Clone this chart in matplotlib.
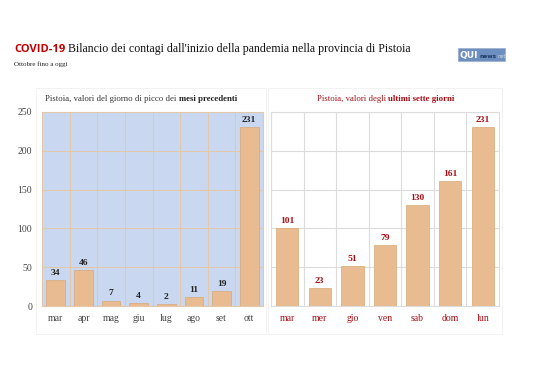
import numpy as np
import matplotlib
matplotlib.use("Agg")
import matplotlib.pyplot as plt
from matplotlib.patches import Rectangle

# data
months = ["mar", "apr", "mag", "giu", "lug", "ago", "set", "ott"]
month_peaks = [34, 46, 7, 4, 2, 11, 19, 231]
days = ["mar", "mer", "gio", "ven", "sab", "dom", "lun"]
day_values = [101, 23, 51, 79, 130, 161, 231]
y_ticks = [0, 50, 100, 150, 200, 250]

SERIF = ["Liberation Serif", "DejaVu Serif"]
BAR = "#e8bc90"
BAR_EDGE = "#d9a878"
RED = "#a50f15"

fig = plt.figure(figsize=(5.38, 3.80), dpi=100)
fig.patch.set_facecolor("white")


def place_after(first, y, text, gap=0, **kw):
    """Put a second text right after the first one on the same baseline."""
    r = fig.canvas.get_renderer()
    bb = first.get_window_extent(renderer=r)
    return fig.text((bb.x1 + gap) / fig.bbox.width, y, text, **kw)


# headline
hy = 1 - 52 / 380
t1 = fig.text(14 / 538, hy, "COVID-19", color="#c00000", fontsize=8,
              fontweight="bold", family="Open Sans", va="baseline")
place_after(t1, hy, " Bilancio dei contagi dall'inizio della pandemia nella provincia di Pistoia",
            fontsize=8.6, family=SERIF, color="#111111", va="baseline")
fig.text(14 / 538, 1 - 66 / 380, "Ottobre fino a oggi", fontsize=5, family=SERIF,
         color="#222222", va="baseline")

# logo
fig.patches.append(Rectangle((458 / 538, 1 - 61 / 380), 47 / 538, 13 / 380,
                             transform=fig.transFigure, facecolor="#6d8fbf",
                             edgecolor="#9fb4d2", linewidth=0.6))
ly = 1 - 58 / 380
q = fig.text(460 / 538, ly, "QUI", fontsize=6.5, fontweight="bold", color="white",
             family="DejaVu Sans", va="baseline")
n = place_after(q, ly, "news", gap=1, fontsize=4.2, fontweight="bold", color="#1e3a66",
                family="DejaVu Sans", va="baseline")
place_after(n, ly, "net", gap=0.5, fontsize=3.6, color="#d4deee",
            family="DejaVu Sans", va="baseline")

# faint frames around the two panels
for x0, x1 in [(36, 266), (268, 502)]:
    fig.patches.append(Rectangle((x0 / 538, 1 - 334 / 380), (x1 - x0) / 538, 246 / 380,
                                 transform=fig.transFigure, fill=False,
                                 edgecolor="#f0f0f0", linewidth=0.6))

ax1 = fig.add_axes([42 / 538, 1 - 306 / 380, 221 / 538, 194 / 380])
ax2 = fig.add_axes([271 / 538, 1 - 306 / 380, 228 / 538, 194 / 380])


def style(ax, cats, vals, face, grid, tick_color, label_color, show_y):
    x = np.arange(len(cats))
    ax.set_facecolor(face)
    ax.bar(x, vals, width=0.68, color=BAR, edgecolor=BAR_EDGE, linewidth=0.5, zorder=3)
    for xi, v in zip(x, vals):
        ax.text(xi, v + 4, str(v), ha="center", va="bottom", fontsize=6.8,
                fontweight="bold", family=SERIF, color=label_color, zorder=4)
    ax.set_ylim(0, 250)
    ax.set_xlim(-0.5, len(cats) - 0.5)
    ax.set_yticks(y_ticks)
    ax.set_xticks(x)
    ax.set_xticklabels(cats, family=SERIF, fontsize=7, color=tick_color)
    ax.set_xticks(np.arange(len(cats) + 1) - 0.5, minor=True)
    ax.yaxis.grid(True, color=grid, linewidth=0.8, zorder=0)
    ax.xaxis.grid(True, which="minor", color=grid, linewidth=0.8, zorder=0)
    ax.tick_params(axis="both", which="both", length=0)
    ax.tick_params(axis="x", pad=6)
    if show_y:
        ax.set_yticklabels([str(v) for v in y_ticks], family=SERIF, fontsize=7, color="#444444")
        ax.tick_params(axis="y", pad=7)
    else:
        ax.set_yticklabels([])
    for s in ax.spines.values():
        s.set_color(grid)
        s.set_linewidth(0.8)


style(ax1, months, month_peaks, "#c9d8f0", "#e2c8aa", "#444444", "#222222", True)
style(ax2, days, day_values, "white", "#dcdcdc", RED, RED, False)

# panel titles with a bold tail
ty = 1 - 101 / 380
a = fig.text(45 / 538, ty, "Pistoia, valori del giorno di picco dei ", fontsize=6.3,
             family=SERIF, color="#333333", va="baseline")
place_after(a, ty, "mesi precedenti", fontsize=6.3, family=SERIF,
            fontweight="bold", color="#222222", va="baseline")
b = fig.text(317 / 538, ty, "Pistoia, valori degli ", fontsize=6.3,
             family=SERIF, color=RED, va="baseline")
place_after(b, ty, "ultimi sette giorni", fontsize=6.3, family=SERIF,
            fontweight="bold", color=RED, va="baseline")

fig.savefig("out.png", dpi=100, facecolor="white")
